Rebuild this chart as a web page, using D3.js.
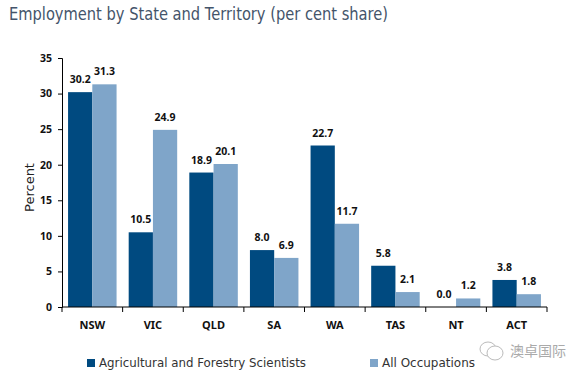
<!DOCTYPE html>
<html>
<head>
<meta charset="utf-8">
<script src="https://cdnjs.cloudflare.com/ajax/libs/d3/7.8.5/d3.min.js"></script>
<style>
	html, body { margin: 0; padding: 0; background: #fff; }
	svg { display: block; }
	text { font-family: "DejaVu Sans", sans-serif; }
	.bold-label { font-family: "Noto Sans", sans-serif; font-weight: bold; fill: #111; }
</style>
</head>
<body>
<svg id="chart"></svg>
<script>
const states = ["NSW", "VIC", "QLD", "SA", "WA", "TAS", "NT", "ACT"];
const scientists = [30.2, 10.5, 18.9, 8.0, 22.7, 5.8, 0.0, 3.8];
const allOccupations = [31.3, 24.9, 20.1, 6.9, 11.7, 2.1, 1.2, 1.8];
const yTicks = [0, 5, 10, 15, 20, 25, 30, 35];
const seriesNames = ["Agricultural and Forestry Scientists", "All Occupations"];
const seriesColors = ["#004a80", "#7fa5c9"];

const margin = { top: 58, right: 37, bottom: 70, left: 62 };
const width = 584 - margin.left - margin.right;
const height = 377 - margin.top - margin.bottom;

const root = d3.select("#chart").attr("width", 584).attr("height", 377);
const svg = root.append("g").attr("transform", `translate(${margin.left},${margin.top})`);

const x = d3.scaleBand().domain(states).range([0, width]).paddingInner(0.2).paddingOuter(0.1);
const y = d3.scaleLinear().domain([0, 35]).range([height, 0]);

root.append("text")
	.attr("x", 9)
	.attr("y", 20)
	.attr("textLength", 379)
	.attr("lengthAdjust", "spacingAndGlyphs")
	.style("font-size", "17px")
	.style("fill", "#44546a")
	.text("Employment by State and Territory (per cent share)");

// Bars and their value labels
[scientists, allOccupations].forEach((values, s) => {
	const barWidth = x.bandwidth() / 2;
	svg.selectAll(".bar" + s)
		.data(values)
		.enter()
		.append("rect")
		.attr("x", (d, i) => x(states[i]) + s * barWidth)
		.attr("y", d => y(d))
		.attr("width", barWidth)
		.attr("height", d => height - y(d))
		.style("fill", seriesColors[s]);

	svg.selectAll(".label" + s)
		.data(values)
		.enter()
		.append("text")
		.attr("class", "bold-label")
		.attr("x", (d, i) => x(states[i]) + s * barWidth + barWidth / 2)
		.attr("y", d => y(d) - 9)
		.attr("text-anchor", "middle")
		.style("font-size", "10.5px")
		.text(d => d.toFixed(1));
});

// Y axis
const yAxis = svg.append("g")
	.call(d3.axisLeft(y).tickValues(yTicks).tickSize(4).tickPadding(6));
yAxis.selectAll("text").attr("class", "bold-label").style("font-size", "10.5px").style("font-family", '"Noto Sans", sans-serif');
yAxis.selectAll("line, path").style("stroke", "#000");

// X axis, ticks sit between the categories
const xAxis = svg.append("g").attr("transform", `translate(0,${height})`);
xAxis.append("line").attr("x1", 0).attr("x2", width).style("stroke", "#000");
xAxis.selectAll(".sep")
	.data(d3.range(states.length + 1))
	.enter()
	.append("line")
	.attr("x1", i => i * x.step())
	.attr("x2", i => i * x.step())
	.attr("y1", 0)
	.attr("y2", 5)
	.style("stroke", "#000");
xAxis.selectAll(".cat")
	.data(states)
	.enter()
	.append("text")
	.attr("class", "bold-label")
	.attr("x", d => x(d) + x.bandwidth() / 2)
	.attr("y", 22)
	.attr("text-anchor", "middle")
	.style("font-size", "11px")
	.text(d => d);

// Y axis label
svg.append("text")
	.attr("transform", `translate(-28,${height / 2 + 5}) rotate(-90)`)
	.attr("text-anchor", "middle")
	.style("font-size", "13px")
	.style("fill", "#222")
	.text("Percent");

// Legend
const legendX = [87, 370];
const legendLength = [207, 93];
seriesNames.forEach((name, i) => {
	root.append("rect")
		.attr("x", legendX[i])
		.attr("y", 359)
		.attr("width", 8)
		.attr("height", 8)
		.style("fill", seriesColors[i]);
	root.append("text")
		.attr("x", legendX[i] + 12)
		.attr("y", 367)
		.attr("textLength", legendLength[i])
		.attr("lengthAdjust", "spacingAndGlyphs")
		.style("font-size", "12.5px")
		.style("fill", "#333")
		.text(name);
});

// Watermark
const mark = root.append("g").style("fill", "#fff").style("stroke", "#bbb");
mark.append("ellipse").attr("cx", 488).attr("cy", 349).attr("rx", 8).attr("ry", 7);
mark.append("ellipse").attr("cx", 495).attr("cy", 353).attr("rx", 8).attr("ry", 7);
root.append("text")
	.attr("x", 510)
	.attr("y", 356)
	.style("font-family", '"Noto Sans CJK SC"')
	.style("font-size", "14px")
	.style("fill", "#aaa")
	.text("澳卓国际");
</script>
</body>
</html>
